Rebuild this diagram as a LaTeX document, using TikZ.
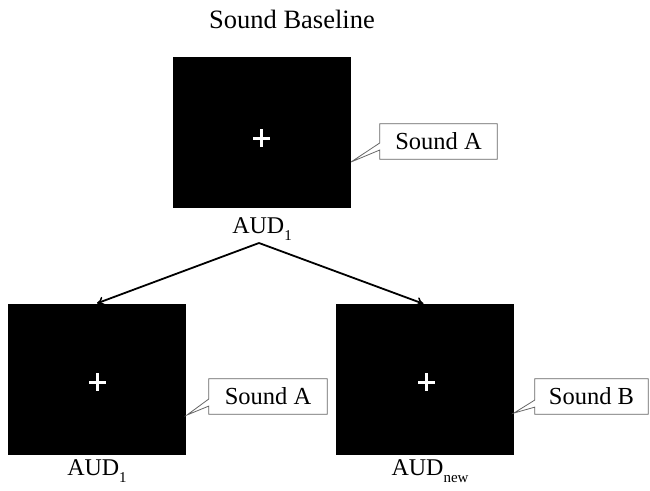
\documentclass[tikz,border=0pt]{standalone}
\usepackage{fontspec}
\setmainfont{Liberation Serif}
\usetikzlibrary{calc,arrows.meta}
\newcommand{\lowsub}[1]{\raisebox{-0.3em}{\fontsize{15}{15}\selectfont #1}}
\begin{document}
\begin{tikzpicture}[x=1pt,y=-1pt,
  screen/.style={fill=black,draw=none,minimum width=178pt,minimum height=151pt,inner sep=0pt},
  fix/.style={draw=white,line width=3pt},
  lbl/.style={font=\fontsize{24}{28}\selectfont,inner sep=0pt},
  bubble/.style={fill=white,draw=black!60,line width=0.8pt},
  btext/.style={font=\fontsize{24.5}{28}\selectfont,inner sep=0pt,minimum height=35pt},
  link/.style={line width=1.8pt,-{To[length=7pt,width=9pt,line width=1.5pt]}}]
\useasboundingbox (0,0) rectangle (650,490);
% title
\node[lbl,font=\fontsize{26.5}{30}\selectfont] (title) at (292,19) {Sound Baseline};
% screens
\node[screen] (top) at (262,132.5) {};
\node[screen] (bl) at (97,379) {};
\node[screen] (br) at (424.5,379.5) {};
% fixation crosses
\coordinate (ftop) at (261.5,138);
\coordinate (fbl) at (97.5,382);
\coordinate (fbr) at (426.5,382);
\foreach \s in {ftop,fbl,fbr}{
  \draw[fix] ($(\s)+(-8.5,0)$) -- ($(\s)+(8.5,0)$);
  \draw[fix] ($(\s)+(0,-9)$) -- ($(\s)+(0,9)$);
}
% labels
\node[lbl] (ltop) at (262,229) {AUD\lowsub{1}};
\node[lbl] (lbl) at (97,471) {AUD\lowsub{1}};
\node[lbl] (lbr) at (430,471) {AUD\lowsub{new}};
\coordinate (apex) at (259,243);
% arrows
\draw[link] (apex) -- (bl.north);
\draw[link] (apex) -- ($(br.north)+(-1,0)$);
% callouts
\node[minimum width=117pt,inner sep=0pt,minimum height=35pt] (ca) at (438.5,141.5) {};
\node[minimum width=118pt,inner sep=0pt,minimum height=35pt] (cb) at (268,396.5) {};
\node[minimum width=113pt,inner sep=0pt,minimum height=35pt] (cc) at (591.5,396.5) {};
\coordinate (ta) at (351,162);
\coordinate (tb) at (187,415);
\coordinate (tc) at (514,413);
\draw[bubble] (ta) -- ($(ca.north west)!0.54!(ca.south west)$) -- (ca.north west) -- (ca.north east) -- (ca.south east) -- (ca.south west) -- ($(ca.north west)!0.74!(ca.south west)$) -- cycle;
\draw[bubble] (tb) -- ($(cb.north west)!0.57!(cb.south west)$) -- (cb.north west) -- (cb.north east) -- (cb.south east) -- (cb.south west) -- ($(cb.north west)!0.77!(cb.south west)$) -- cycle;
\draw[bubble] (tc) -- ($(cc.north west)!0.6!(cc.south west)$) -- (cc.north west) -- (cc.north east) -- (cc.south east) -- (cc.south west) -- ($(cc.north west)!0.8!(cc.south west)$) -- cycle;
\node[btext] (ta1) at (ca.center) {Sound A};
\node[btext] (ta2) at (cb.center) {Sound A};
\node[btext] (tbb) at (cc.center) {Sound B};
\end{tikzpicture}
\end{document}
